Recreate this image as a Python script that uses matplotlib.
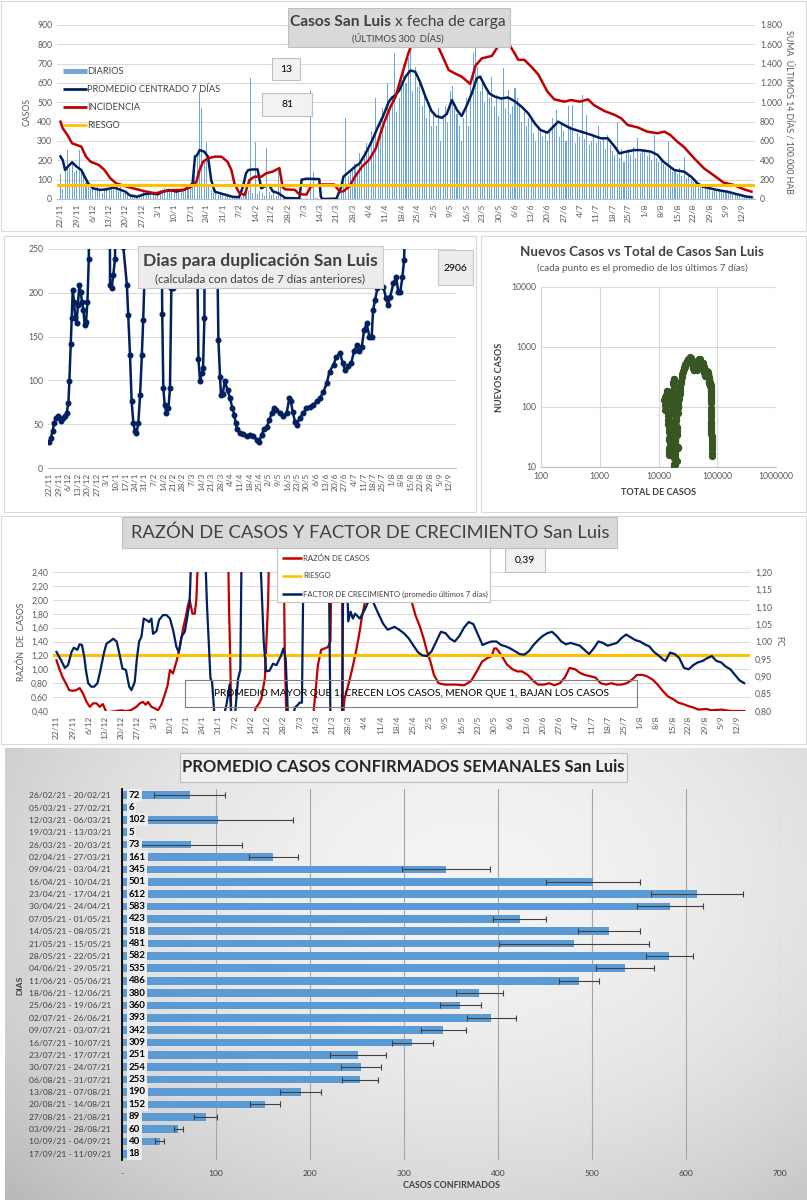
import numpy as np
import pandas as pd
import matplotlib
matplotlib.use("Agg")
import matplotlib.pyplot as plt
from matplotlib.patches import Rectangle
from matplotlib.lines import Line2D
from matplotlib.ticker import FuncFormatter, FixedLocator
import datetime as dt

plt.rcParams['font.family'] = ['Lato', 'DejaVu Sans']

W, H = 807, 1200

# ---------------- datos ----------------
inicio = dt.date(2020, 11, 22)
fechas = [inicio + dt.timedelta(days=d) for d in range(0, 295, 7)]
tick_dias = list(range(0, 295, 7))
tick_txt = [f"{f.day}/{f.month}" for f in fechas]

# casos diarios (un valor por dia desde 22/11)
diarios = [130, 50, 150, 255, 160, 190, 140,
           150, 255, 140, 120, 90, 60, 50,
           60, 45, 80, 40, 30, 55, 60,
           45, 70, 55, 60, 40, 65, 30,
           35, 20, 15, 10, 25, 8, 12,
           20, 35, 25, 30, 20, 35, 15,
           30, 45, 40, 55, 35, 50, 45,
           35, 40, 30, 55, 45, 50, 60,
           70, 80, 230, 235, 555, 472, 200,
           297, 60, 45, 30, 50, 20, 25,
           30, 15, 20, 10, 15, 5, 10,
           5, 8, 20, 35, 40, 625, 30,
           293, 25, 40, 30, 15, 263, 35,
           20, 40, 15, 150, 60, 10, 5,
           3, 2, 5, 3, 2, 4, 6,
           2, 3, 0, 565, 140, 5, 3,
           0, 0, 2, 0, 0, 5, 3,
           10, 5, 30, 90, 418, 120, 140,
           150, 180, 130, 240, 200, 250, 290,
           280, 350, 300, 520, 320, 420, 470,
           380, 600, 480, 520, 757, 450, 520,
           640, 700, 600, 727, 791, 560, 684,
           580, 620, 480, 560, 420, 500, 380,
           450, 380, 470, 300, 420, 480, 400,
           560, 586, 470, 440, 380, 300, 420,
           520, 380, 600, 753, 779, 684, 560,
           620, 500, 560, 520, 633, 480, 540,
           430, 520, 676, 470, 564, 440, 480,
           572, 520, 480, 400, 460, 380, 420,
           410, 340, 300, 380, 360, 320, 340,
           300, 360, 420, 380, 460, 320, 400,
           350, 300, 481, 380, 486, 290, 340,
           320, 538, 310, 434, 280, 300, 330,
           290, 380, 300, 320, 260, 330, 280,
           250, 230, 400, 210, 260, 190, 240,
           260, 230, 270, 210, 314, 240, 250,
           260, 220, 240, 200, 331, 210, 190,
           200, 180, 170, 297, 160, 140, 150,
           130, 160, 120, 219, 110, 130, 100,
           90, 105, 70, 60, 75, 65, 55,
           50, 40, 55, 45, 48, 38, 45,
           40, 32, 35, 28, 30, 22, 25,
           20, 15, 18, 10, 12, 8]

# promedio centrado 7 dias (dia, casos)
promedio = [(0, 220), (1, 200), (2, 150), (3, 165), (5, 190), (7, 167), (9, 150), (10, 125), (12, 80), (14, 55),
            (17, 47), (20, 50), (23, 60), (26, 47), (28, 38), (30, 18), (33, 12), (36, 24), (39, 29), (42, 24),
            (44, 38), (47, 47), (50, 38), (53, 47), (56, 64), (57, 85), (58, 219), (59, 228), (60, 253), (62, 245),
            (63.6, 219), (65, 98), (66.5, 38), (69, 29), (71.5, 21), (74, 12), (77, 9), (78.7, 64), (80, 133), (81, 150),
            (83, 153), (85, 153), (86.6, 55), (88, 65), (90, 72), (91.5, 40), (94, 30), (97, 5), (103, 3), (104, 100),
            (106, 105), (111.6, 103), (112.3, 10), (113, 0), (119, 2), (121, 60), (122, 115), (124.5, 141), (127, 167), (129, 184),
            (131.6, 236), (134.5, 305), (136.6, 365), (139, 425), (141.6, 503), (143, 525), (144.5, 538), (146, 560), (148.8, 633), (150.9, 665),
            (153, 658), (155, 607), (157.4, 529), (160, 455), (162, 429), (164.5, 420), (166.6, 440), (168.8, 512), (171, 460), (173, 429),
            (175, 478), (177.4, 547), (179.5, 624), (181, 633), (183, 585), (185, 545), (187.4, 529), (190, 520), (193, 525), (196, 505),
            (198.8, 478), (201.7, 443), (204.6, 390), (207, 357), (210, 343), (214.6, 400), (220, 365), (224.6, 348), (229, 331), (233, 314),
            (236, 314), (239, 271), (241, 236), (244, 245), (247.5, 253), (250, 253), (254.6, 245), (257.5, 228), (260, 193), (264.7, 150),
            (269, 141), (272, 115), (274.7, 81), (277, 64), (283, 47), (287.5, 38), (292, 24), (296, 12), (298, 10)]

# incidencia: suma 14 dias / 100.000 hab (dia, valor)
incidencia = [(0, 800), (1, 731), (3, 662), (5, 576), (7, 559), (9, 541), (11, 438), (13, 386), (16.5, 352), (19, 300),
              (21.5, 214), (24, 162), (28.6, 128), (33, 100), (37, 76), (41, 59), (44, 76), (48.6, 93), (53, 93), (56.5, 128),
              (58.6, 179), (60, 300), (61.5, 386), (63.6, 421), (66.5, 438), (69.4, 438), (72, 386), (73.7, 300), (75, 162), (77, 66),
              (79.4, 41), (81.5, 197), (83.7, 231), (86.6, 231), (88.7, 266), (91.5, 283), (94.4, 320), (95.8, 120), (97, 100), (101, 95),
              (103, 50), (106, 45), (108, 130), (112, 150), (118, 150), (120.5, 75), (122, 80), (124.5, 128), (127, 231), (130, 334),
              (133, 403), (136, 524), (138, 679), (140, 817), (142, 938), (144.5, 1059), (147, 1266), (150, 1507), (152.4, 1662), (155, 1780),
              (158, 1760), (160.5, 1700), (162.4, 1600), (164.5, 1490), (167.4, 1334), (170, 1300), (173, 1266), (176.7, 1190), (179, 1380), (181.7, 1455),
              (186, 1480), (189, 1590), (191.7, 1680), (193.5, 1600), (196, 1500), (197.4, 1440), (200, 1440), (203, 1369), (206, 1290), (210, 1110),
              (213, 1030), (217.4, 1007), (220, 1024), (224, 1007), (227.5, 1031), (230, 972), (234.6, 910), (239, 870), (241.8, 834), (244.6, 766),
              (249, 740), (253, 697), (257.5, 680), (260.4, 697), (263, 662), (266, 593), (269, 535), (273.3, 420), (277.6, 315), (282, 240),
              (286, 169), (290.4, 145), (294.7, 100), (298, 76)]
riesgo_inc = 148

# dias para duplicacion (dia, dias)
duplicacion = [(0, 30), (1, 34), (2.5, 42), (3.4, 51), (4.9, 57), (6.6, 59), (8.3, 54), (9.8, 57), (11.5, 59), (12.7, 63),
               (14, 74), (14.7, 99), (15.7, 142), (16.4, 171), (17.2, 203), (18.1, 190), (19.1, 171), (20, 165), (21, 186), (22, 209),
               (23, 201), (24, 190), (25, 180), (26, 163), (27, 167), (28, 190), (29, 239), (30, 600), (44, 600), (44.6, 209),
               (45.8, 206), (47, 220), (48.3, 239), (49.5, 600), (53.5, 600), (54.4, 252), (57, 209), (58, 175), (59.3, 129), (60.5, 76),
               (61.8, 51), (63, 42), (64, 40), (65.4, 51), (66.7, 83), (68, 129), (69, 169), (69.8, 209), (71, 600), (82, 600),
               (82.6, 260), (83, 176), (83.8, 91), (84.8, 72), (86, 63), (87.5, 68), (88.7, 91), (89.7, 205), (91, 205), (92.4, 600),
               (108, 600), (108.3, 300), (109.6, 125), (110.8, 99), (112, 108), (113, 114), (114, 171), (114.6, 600), (122.5, 600), (123, 300),
               (124.3, 146), (125.5, 104), (126.2, 83), (127.5, 85), (129, 99), (131, 89), (132.8, 80), (134.6, 68), (136, 61), (137, 51),
               (138.2, 44), (140, 40), (142.6, 39), (145, 36), (147.5, 38), (150, 37), (152.5, 32), (154.4, 30), (156, 38), (157.8, 44),
               (159.8, 47), (161.8, 55), (163.5, 63), (165, 68), (167, 66), (169.6, 63), (172, 59), (174.5, 63), (176.5, 80), (177.5, 76),
               (179, 64), (180.6, 53), (182, 49), (184, 57), (186.8, 63), (189, 68), (191.7, 70), (194, 72), (196.6, 76), (199, 80),
               (201.5, 87), (204, 97), (206, 110), (209, 118), (211, 127), (213.7, 131), (215.7, 120), (217.4, 112), (219.8, 116), (222, 120),
               (224, 133), (226, 140), (228, 133), (229.7, 138), (231.4, 157), (233.3, 165), (235.3, 150), (237, 150), (238, 180), (239.5, 192),
               (241.2, 205), (243, 218), (245.6, 207), (247.5, 194), (249, 186), (250.5, 195), (253, 211), (255, 218), (256.6, 201), (258, 201),
               (259.6, 218), (260.8, 237), (262, 300)]
dup_actual = "2906"

casos_previos = 12500   # total acumulado antes del 22/11

# razon de casos (dia, razon)
razon = [(0, 1.13), (1.2, 1.01), (2.6, 0.89), (4, 0.80), (5.5, 0.70), (7, 0.69), (8.5, 0.70), (10, 0.73), (11.5, 0.65), (13, 0.53),
         (14.4, 0.46), (15.8, 0.51), (17.3, 0.51), (18.7, 0.46), (20, 0.50), (21.6, 0.38), (28, 0.41), (30, 0.40), (32, 0.41), (34.5, 0.46),
         (36, 0.51), (37.4, 0.53), (38.5, 0.49), (39.5, 0.53), (41, 0.46), (42.4, 0.44), (43.8, 0.41), (45.3, 0.49), (46.7, 0.63), (48, 0.77),
         (49, 0.99), (50.3, 0.94), (51.8, 1.11), (53.2, 1.30), (54.7, 1.59), (55.8, 1.75), (56.8, 1.92), (57.5, 2.00), (58.7, 1.80), (59.7, 1.80),
         (60.4, 2.00), (61.6, 3.0), (74, 3.0), (74.5, 1.92), (75, 1.20), (75.5, 0.30), (85, 0.30), (86, 0.44), (87.5, 0.51), (88.5, 0.58),
         (90, 0.87), (91.4, 1.97), (92, 3.0), (98, 3.0), (98.6, 1.20), (99.3, 0.30), (110.8, 0.30), (112.9, 1.06), (114.3, 1.28), (115.7, 1.30),
         (117.2, 1.32), (118.3, 1.40), (119, 3.0), (123.2, 3.0), (123.7, 0.30), (124.4, 0.58), (126, 0.77), (127.4, 0.96), (129, 1.20), (130.4, 1.44),
         (131.8, 1.73), (133.2, 1.97), (134, 3.0), (152.5, 3.0), (153, 2.02), (155, 1.78), (157, 1.61), (158.5, 1.45), (160, 1.26), (161.5, 1.11),
         (163, 0.92), (165, 0.80), (167.6, 0.78), (170, 0.78), (172.5, 0.78), (176, 0.77), (179, 0.83), (181.5, 0.97), (183.8, 1.11), (186, 1.16),
         (188, 1.19), (189, 1.30), (190, 1.30), (192, 1.21), (194.5, 1.07), (197, 1.00), (199, 0.97), (201, 0.97), (203.5, 0.92), (206, 0.83),
         (208, 0.78), (210.5, 0.78), (212.8, 0.80), (215, 0.77), (217.4, 0.80), (219.5, 0.88), (221.6, 1.02), (224, 1.00), (226, 0.95), (228, 0.92),
         (230.6, 0.90), (232.8, 0.88), (235, 0.80), (237.4, 0.78), (239.6, 0.80), (241.8, 0.78), (244, 0.78), (246.3, 0.80), (248.5, 0.85), (250.7, 0.92),
         (253, 0.92), (255, 0.90), (257.5, 0.85), (259.6, 0.78), (261.8, 0.69), (264, 0.61), (266.3, 0.57), (268.5, 0.52), (270.6, 0.50), (273, 0.47),
         (275, 0.45), (277.3, 0.42), (280.6, 0.43), (282.8, 0.41), (287, 0.42), (291.3, 0.40), (297, 0.40)]
riesgo_razon = 1.20
razon_actual = "0,39"

# factor de crecimiento, promedio ultimos 7 dias (dia, fc)
factor = [(0, 0.970), (2, 0.946), (3.6, 0.924), (5, 0.932), (6.5, 0.970), (7.5, 0.982), (9, 0.976), (10, 0.992), (11, 0.990), (12, 0.956),
          (12.7, 0.918), (13.7, 0.880), (15, 0.870), (16.3, 0.870), (17.7, 0.880), (19, 0.918), (20.6, 0.970), (21.6, 0.994), (23, 1.000), (24.5, 1.008),
          (26, 1.000), (27, 0.970), (28.5, 0.922), (30, 0.918), (31.4, 0.870), (32.4, 0.860), (33.8, 0.884), (34.8, 0.956), (35.7, 1.000), (36.7, 1.014),
          (37.7, 1.066), (38.8, 1.062), (40, 1.056), (41, 1.066), (41.7, 1.022), (43.2, 1.030), (44.3, 1.062), (46, 1.076), (47.5, 1.076), (49, 1.066),
          (50.4, 1.032), (51.8, 0.984), (52.8, 0.970), (54, 1.014), (55.4, 1.028), (56.4, 1.066), (57.5, 1.114), (58.5, 1.30), (64, 1.30), (65, 1.104),
          (66.5, 0.894), (67.2, 0.884), (68.3, 0.78), (72, 0.78), (73.4, 0.818), (74.8, 0.876), (75.5, 0.78), (77, 0.78), (78.4, 0.892), (79.4, 0.918),
          (80, 1.30), (87.7, 1.30), (89.5, 1.000), (90.5, 0.914), (92, 0.916), (93.5, 0.936), (95, 0.932), (97, 0.960), (98, 0.980), (99, 0.950),
          (100, 0.78), (102, 0.78), (103, 0.810), (104, 0.816), (105, 0.824), (106, 0.824), (106.8, 1.30), (117.5, 1.30), (118.3, 0.78), (123.3, 0.78),
          (124, 1.30), (125, 1.30), (126, 1.058), (127, 1.086), (128, 1.066), (129, 1.080), (131, 1.066), (133, 1.090), (135, 1.120), (136, 1.124),
          (137, 1.110), (139, 1.080), (141, 1.052), (143, 1.034), (146, 1.042), (148, 1.034), (150, 1.024), (152, 1.010), (154, 0.990), (156, 0.970),
          (158, 0.960), (160, 0.958), (162, 0.972), (164, 1.000), (166, 1.028), (168, 1.024), (170, 1.008), (172, 1.000), (174, 1.016), (176, 1.040),
          (178, 1.056), (180, 1.050), (182, 1.020), (184, 0.990), (186, 0.996), (188, 1.000), (190, 1.000), (192, 0.990), (194, 0.986), (196, 0.980),
          (198, 0.972), (200, 0.964), (202, 0.962), (204, 0.972), (206, 0.990), (208, 1.004), (210, 1.016), (212, 1.024), (214, 1.028), (216, 1.016),
          (218, 1.000), (220, 0.992), (222, 0.996), (224, 0.992), (226, 0.988), (228, 0.976), (230, 0.964), (232, 0.980), (234, 1.000), (236, 0.996),
          (238, 0.988), (240, 0.992), (242, 0.996), (244, 1.010), (246, 1.020), (248, 1.012), (250, 1.004), (252, 1.000), (254, 0.992), (256, 0.986),
          (258, 0.970), (260, 0.960), (262, 0.948), (263, 0.944), (265, 0.968), (267, 0.964), (269, 0.952), (271, 0.924), (273, 0.920), (275, 0.932),
          (277, 0.940), (279, 0.944), (281, 0.952), (283, 0.958), (285, 0.944), (287, 0.940), (289, 0.928), (291, 0.920), (293, 0.904), (295, 0.888),
          (297, 0.880)]

# promedio semanal
semanas = ["26/02/21 - 20/02/21", "05/03/21 - 27/02/21", "12/03/21 - 06/03/21", "19/03/21 - 13/03/21",
           "26/03/21 - 20/03/21", "02/04/21 - 27/03/21", "09/04/21 - 03/04/21", "16/04/21 - 10/04/21",
           "23/04/21 - 17/04/21", "30/04/21 - 24/04/21", "07/05/21 - 01/05/21", "14/05/21 - 08/05/21",
           "21/05/21 - 15/05/21", "28/05/21 - 22/05/21", "04/06/21 - 29/05/21", "11/06/21 - 05/06/21",
           "18/06/21 - 12/06/21", "25/06/21 - 19/06/21", "02/07/21 - 26/06/21", "09/07/21 - 03/07/21",
           "16/07/21 - 10/07/21", "23/07/21 - 17/07/21", "30/07/21 - 24/07/21", "06/08/21 - 31/07/21",
           "13/08/21 - 07/08/21", "20/08/21 - 14/08/21", "27/08/21 - 21/08/21", "03/09/21 - 28/08/21",
           "10/09/21 - 04/09/21", "17/09/21 - 11/09/21"]
prom_semanal = [72, 6, 102, 5, 73, 161, 345, 501, 612, 583, 423, 518, 481, 582, 535,
                486, 380, 360, 393, 342, 309, 251, 254, 253, 190, 152, 89, 60, 40, 18]
desvio = [38, 0, 80, 0, 55, 26, 47, 50, 49, 35, 28, 33, 80, 25, 31,
          21, 25, 22, 26, 24, 22, 30, 21, 19, 22, 16, 12, 4.5, 4.5, 0]

AZUL = '#002060'
ROJO = '#c00000'
AMARILLO = '#ffc000'
CELESTE = '#6ea6dc'
GRIS = '#595959'
GRILLA = '#d9d9d9'

# ---------------- figura ----------------
fig = plt.figure(figsize=(W / 100, H / 100), dpi=100)


def rect(x0, y0, x1, y1):
    return [x0 / W, 1 - y1 / H, (x1 - x0) / W, (y1 - y0) / H]


def caja(x0, y0, x1, y1, fc, ec, z=5, lw=0.8):
    fig.add_artist(Rectangle((x0 / W, 1 - y1 / H), (x1 - x0) / W, (y1 - y0) / H,
                             transform=fig.transFigure, fc=fc, ec=ec, lw=lw, zorder=z))


def texto(x, y, s, **kw):
    kw.setdefault('zorder', 6)
    fig.text(x / W, 1 - y / H, s, **kw)


def linea(x0, x1, y, color, lw):
    fig.add_artist(Line2D([x0 / W, x1 / W], [1 - y / H, 1 - y / H], transform=fig.transFigure,
                          color=color, lw=lw, zorder=6, solid_capstyle='butt'))


def limpiar(ax):
    for s in ax.spines.values():
        s.set_visible(False)
    ax.tick_params(length=0, colors=GRIS, labelsize=6.2)


miles = FuncFormatter(lambda v, p: f"{int(v):,}".replace(",", "."))
coma = FuncFormatter(lambda v, p: f"{v:.2f}".replace(".", ","))

# marcos de paneles
caja(1, 1, 806, 231, 'white', '#d9d9d9', z=-1)
caja(4, 236, 476, 512, 'white', '#d9d9d9', z=-1)
caja(481, 236, 806, 512, 'white', '#d9d9d9', z=-1)
caja(1, 516, 806, 744, 'white', '#d9d9d9', z=-1)

dias = np.arange(len(diarios))

# ---------- panel 1 ----------
ax1 = fig.add_axes(rect(57, 25, 755, 199))
limpiar(ax1)
ax1.bar(dias, diarios, width=0.45, color=CELESTE, zorder=2)
px, pv = zip(*promedio)
ax1.plot(px, pv, color=AZUL, lw=1.8, zorder=3)
ax1.set_xlim(-1.5, 299.5)
ax1.set_ylim(0, 900)
ax1.set_yticks(range(0, 901, 100))
ax1.yaxis.grid(True, color=GRILLA, lw=0.7)
ax1.set_axisbelow(True)
ax1.set_xticks(tick_dias)
ax1.set_xticklabels(tick_txt, rotation=90, fontsize=6)
ax1.spines['bottom'].set_visible(True)
ax1.spines['bottom'].set_color('#bfbfbf')
ax1.set_ylabel("CASOS", fontsize=6.3, color=GRIS, labelpad=4)

ax1r = ax1.twinx()
limpiar(ax1r)
ix, iv = zip(*incidencia)
ax1r.plot(ix, iv, color=ROJO, lw=1.8, zorder=3)
ax1r.axhline(riesgo_inc, color=AMARILLO, lw=2.2, zorder=4)
ax1r.set_ylim(0, 1800)
ax1r.set_yticks(range(0, 1801, 200))
ax1r.yaxis.set_major_formatter(miles)
ax1r.set_ylabel("SUMA  ÚLTIMOS 14 DÍAS / 100.000 HAB", fontsize=6.3, color=GRIS, rotation=270, labelpad=9)

caja(288, 8, 510, 47, '#d9d9d9', '#bfbfbf')
texto(391, 22, "Casos San Luis", ha='right', va='center', fontsize=11.2, fontweight='bold', color='#404040')
texto(395, 22, "x fecha de carga", ha='left', va='center', fontsize=11.2, color='#404040')
texto(398, 38, "(ÚLTIMOS 300  DÍAS)", ha='center', va='center', fontsize=6.8, color='#404040')

leyenda1 = [("DIARIOS", CELESTE, 3.5), ("PROMEDIO CENTRADO 7 DÍAS", AZUL, 2),
            ("INCIDENCIA", ROJO, 2), ("RIESGO", AMARILLO, 2)]
for i, (nom, col, lw) in enumerate(leyenda1):
    yy = 71 + i * 18
    linea(63, 87, yy, col, lw)
    texto(87, yy, nom, ha='left', va='center', fontsize=6.7, color='#404040')

caja(272, 58, 300, 80, '#f2f2f2', '#bfbfbf')
texto(286, 69, "13", ha='center', va='center', fontsize=7.5, color='black')
caja(262, 93, 312, 116, '#f2f2f2', '#bfbfbf')
texto(287, 104.5, "81", ha='center', va='center', fontsize=7.5, color='black')

# ---------- panel 2 ----------
ax2 = fig.add_axes(rect(48, 249, 456, 468))
limpiar(ax2)
dx, dv = zip(*duplicacion)
ax2.plot(dx, dv, '-o', color=AZUL, lw=1.8, ms=3.3, zorder=3)
ax2.set_xlim(-1, 299)
ax2.set_ylim(0, 250)
ax2.set_yticks(range(0, 251, 50))
ax2.yaxis.grid(True, color=GRILLA, lw=0.7)
ax2.set_axisbelow(True)
ax2.set_xticks(tick_dias)
ax2.set_xticklabels(tick_txt, rotation=90, fontsize=6)
ax2.spines['bottom'].set_visible(True)
ax2.spines['bottom'].set_color('#bfbfbf')

caja(138, 246, 383, 288, '#ececec', '#c8c8c8')
texto(260, 261, "Dias para duplicación San Luis", ha='center', va='center', fontsize=12.6,
      fontweight='bold', color='#404040')
texto(260, 279, "(calculada con datos de 7 días anteriores)", ha='center', va='center', fontsize=8.4, color='#404040')
caja(438, 250, 473, 285, '#ececec', '#c8c8c8')
texto(455.5, 268, dup_actual, ha='center', va='center', fontsize=7.5, color='black')

# ---------- panel 3 ----------
total = casos_previos + np.cumsum(np.array(diarios, float))
nuevos = pd.Series(diarios, dtype=float).rolling(7, min_periods=1).mean().values
ax3 = fig.add_axes(rect(541, 287, 776, 467))
limpiar(ax3)
ax3.plot(total, nuevos, '-o', color='#375623', lw=2, ms=4.2, zorder=3, clip_on=True)
ax3.set_xscale('log')
ax3.set_yscale('log')
ax3.set_xlim(100, 1e6)
ax3.set_ylim(10, 1e4)
ax3.xaxis.set_major_locator(FixedLocator([100, 1e3, 1e4, 1e5, 1e6]))
ax3.yaxis.set_major_locator(FixedLocator([10, 100, 1e3, 1e4]))
ax3.xaxis.set_minor_locator(FixedLocator([]))
ax3.yaxis.set_minor_locator(FixedLocator([]))
entero = FuncFormatter(lambda v, p: f"{int(round(v))}")
ax3.xaxis.set_major_formatter(entero)
ax3.yaxis.set_major_formatter(entero)
ax3.grid(True, color=GRILLA, lw=0.8)
ax3.set_axisbelow(True)
ax3.spines['bottom'].set_visible(True)
ax3.spines['bottom'].set_color('#bfbfbf')
ax3.set_xlabel("TOTAL DE CASOS", fontsize=6.5, color='#404040', fontweight='bold', labelpad=5)
ax3.set_ylabel("NUEVOS CASOS", fontsize=6.5, color='#404040', fontweight='bold', labelpad=5)
texto(642, 252, "Nuevos Casos vs Total de Casos San Luis", ha='center', va='center', fontsize=9.6,
      fontweight='bold', color='#404040')
texto(642, 268, "(cada punto es el promedio de los últimos 7 días)", ha='center', va='center', fontsize=7.1, color=GRIS)

# ---------- panel 4 ----------
ax4 = fig.add_axes(rect(53, 572, 750, 711))
limpiar(ax4)
rx, rv = zip(*razon)
ax4.plot(rx, rv, color=ROJO, lw=1.6, zorder=3)
ax4.axhline(riesgo_razon, color=AMARILLO, lw=2.2, zorder=4)
ax4.set_xlim(-1.5, 299.5)
ax4.set_ylim(0.4, 2.4)
ax4.set_yticks(np.arange(0.4, 2.41, 0.2))
ax4.yaxis.set_major_formatter(coma)
ax4.yaxis.grid(True, color=GRILLA, lw=0.7)
ax4.set_axisbelow(True)
ax4.set_xticks(tick_dias)
ax4.set_xticklabels(tick_txt, rotation=90, fontsize=6)
ax4.set_ylabel("RAZÓN  DE  CASOS", fontsize=6.3, color=GRIS, labelpad=4)

ax4r = ax4.twinx()
limpiar(ax4r)
fx_, fv = zip(*factor)
ax4r.plot(fx_, fv, color=AZUL, lw=1.6, zorder=3)
ax4r.set_ylim(0.8, 1.2)
ax4r.set_yticks(np.arange(0.8, 1.201, 0.05))
ax4r.yaxis.set_major_formatter(coma)
ax4r.set_ylabel("FC", fontsize=6.3, color=GRIS, rotation=270, labelpad=8)

caja(122, 517, 617, 548, '#d9d9d9', '#bfbfbf')
texto(370, 533, "RAZÓN DE CASOS Y FACTOR DE CRECIMIENTO San Luis", ha='center', va='center',
      fontsize=13.2, color='#404040')
caja(277, 548, 490, 602, 'white', '#bfbfbf')
leyenda4 = [("RAZÓN DE CASOS", ROJO), ("RIESGO", AMARILLO),
            ("FACTOR DE CRECIMIENTO (promedio últimos 7 días)", AZUL)]
for i, (nom, col) in enumerate(leyenda4):
    yy = 558 + i * 18
    linea(282, 302, yy, col, 1.8)
    texto(303, yy, nom, ha='left', va='center', fontsize=5.6, color='#404040')
caja(505, 548, 545, 572, '#f2f2f2', '#bfbfbf')
texto(525, 560, razon_actual, ha='center', va='center', fontsize=7.5, color='black')
caja(185, 680, 637, 707, 'none', '#7f7f7f')
texto(411, 693.5, "PROMEDIO MAYOR QUE 1, CRECEN LOS CASOS, MENOR QUE 1, BAJAN LOS CASOS",
      ha='center', va='center', fontsize=7.3, color='black')

# ---------- panel 5 ----------
bg = fig.add_axes(rect(5, 748, 807, 1200), zorder=-0.5)
gy, gx = np.mgrid[0:1:200j, 0:1:200j]
dist = ((gx - 0.58) / 0.75) ** 2 + ((gy - 0.3) / 0.95) ** 2
bg.imshow(np.clip(0.95 - 0.2 * dist, 0.72, 0.95), cmap='gray', vmin=0, vmax=1,
          aspect='auto', extent=[0, 1, 1, 0])
bg.set_axis_off()

ax5 = fig.add_axes(rect(122, 789, 780, 1160))
ax5.set_facecolor('none')
filas = np.arange(len(semanas))
ax5.barh(filas, prom_semanal, height=0.62, color='#5b9bd5', zorder=2)
ax5.errorbar(prom_semanal, filas, xerr=desvio, fmt='none', ecolor='#404040', elinewidth=0.8,
             capsize=2, capthick=0.8, zorder=3)
for f, v in zip(filas, prom_semanal):
    ax5.text(7, f, str(v), ha='left', va='center', fontsize=7, fontweight='bold', color='black', zorder=4,
             bbox=dict(boxstyle='square,pad=0.2', fc='#ededed', ec='none'))
ax5.set_xlim(0, 700)
ax5.set_ylim(len(semanas) - 0.5, -0.5)
ax5.set_yticks(filas)
ax5.set_yticklabels(semanas)
ax5.set_xticks(range(0, 701, 100))
ax5.set_xticklabels(["-"] + [str(v) for v in range(100, 701, 100)])
for s in ['top', 'right', 'bottom']:
    ax5.spines[s].set_visible(False)
ax5.spines['left'].set_color('black')
ax5.spines['left'].set_linewidth(1.3)
ax5.tick_params(length=0, colors='#404040', labelsize=6.1)
ax5.tick_params(axis='y', pad=8)
ax5.tick_params(axis='x', pad=7)
ax5.xaxis.grid(True, color='#a6a6a6', lw=0.8)
ax5.set_axisbelow(True)
ax5.set_xlabel("CASOS CONFIRMADOS", fontsize=6.3, color='#404040', fontweight='bold', labelpad=3)
texto(20, 985, "DIAS", ha='center', va='center', fontsize=6, fontweight='bold', rotation=90, color='#404040')

caja(180, 753, 627, 782, '#f0f0f0', '#bfbfbf')
texto(403, 767.5, "PROMEDIO CASOS CONFIRMADOS SEMANALES San Luis", ha='center', va='center',
      fontsize=11.9, fontweight='bold', color='#262626')

fig.savefig("out.png", dpi=100)
